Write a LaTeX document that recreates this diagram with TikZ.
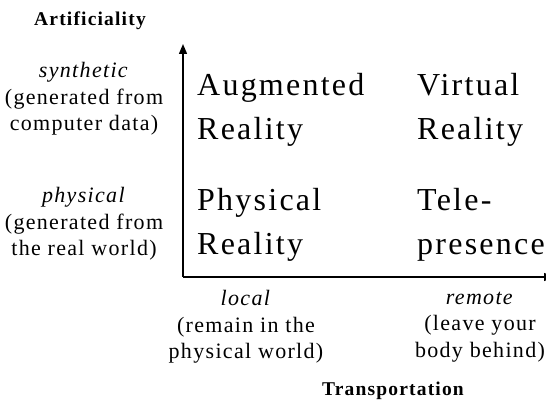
\documentclass[tikz,border=0pt]{standalone}
\usepackage{fontspec}
\setmainfont[LetterSpace=6]{Liberation Serif}
\newfontfamily\cellfont[LetterSpace=7]{Liberation Serif}
\usetikzlibrary{arrows.meta}

\begin{document}
\begin{tikzpicture}[x=1pt,y=-1pt]
	\tikzstyle{every node}+=[inner sep=0pt]
	\tikzstyle{cell}=[anchor=west, align=left, font={\cellfont\fontsize{32}{44}\selectfont}]
	\tikzstyle{side}=[align=center, font={\fontsize{22}{26.5}\selectfont}]
	\tikzstyle{title}=[font={\bfseries\fontsize{19.5}{23}\selectfont}]
	\useasboundingbox (0,0) rectangle (546,403);
	% axes
	\coordinate (origin) at (183,277);
	\coordinate (ytop) at (183,44);
	\coordinate (xend) at (554,277);
	\draw [line width=1.4pt, -{Triangle[length=10pt,width=8pt]}] (origin) -- (ytop);
	\draw [line width=1.4pt, -{Triangle[length=10pt,width=8pt]}] (origin) -- (xend);
	% quadrants
	\draw (197,110) node [cell] (ar) {Augmented\\Reality};
	\draw (417,110) node [cell] (vr) {Virtual\\Reality};
	\draw (197,225) node [cell] (pr) {Physical\\Reality};
	\draw (417,225) node [cell] (tp) {Tele-\\presence};
	% axis labels
	\draw (90,21) node [title] (art) {Artificiality};
	\draw (84,99) node [side] (syn) {\textit{synthetic}\\(generated from\\computer data)};
	\draw (84,224) node [side] (phy) {\textit{physical}\\(generated from\\the real world)};
	\draw (246,327) node [side] (loc) {\textit{local}\\(remain in the\\physical world)};
	\draw (480,327) node [side] (rem) {\textit{remote}\\(leave your\\body behind)};
	\draw (393,391) node [title] (tra) {Transportation};
\end{tikzpicture}
\end{document}
